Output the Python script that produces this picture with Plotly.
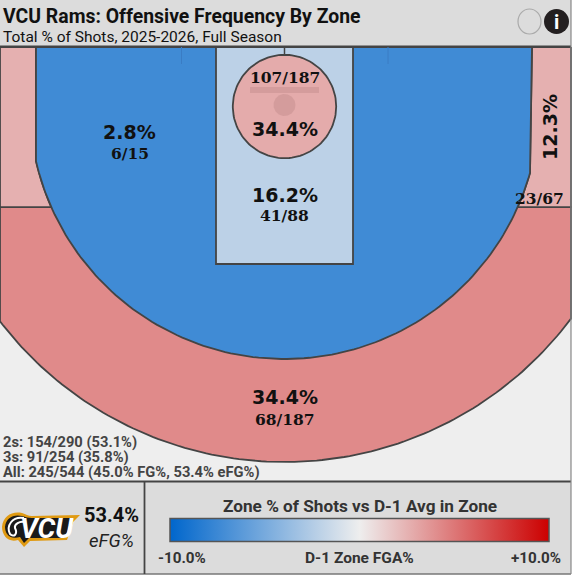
import numpy as np
import plotly.graph_objects as go
from plotly.colors import sample_colorscale

# Dados dos zonas
zonas = ["esquerda", "garrafao", "aro", "canto", "tres"]
pct_zona = [2.8, 16.2, 34.4, 12.3, 34.4]
made_zona = [6, 41, 107, 23, 68]
att_zona = [15, 88, 187, 67, 187]
dif_zona = [-7.3, -2.1, 2.8, 2.6, 4.2]  # diferenca contra a media D-1

titulo = "VCU Rams: Offensive Frequency By Zone"
subtitulo = "Total % of Shots, 2025-2026, Full Season"
linhas_resumo = ["2s: 154/290 (53.1%)", "3s: 91/254 (35.8%)", "All: 245/544 (45.0% FG%, 53.4% eFG%)"]
efg = "53.4%"
escala = [[0, "#0066cc"], [0.5, "#eeeeee"], [1, "#cc0000"]]
cmin, cmax = -10, 10


def cor(v):
    return sample_colorscale(escala, [(v - cmin) / (cmax - cmin)])[0]


LINHA = "#444444"
cx, cy = 284.5, 104
R3, RFORA = 255, 358
topo, fundo, direita = 47, 481, 571
canto_y = 207


def arco(r, a0, a1, x0=cx, y0=cy, n=120):
    t = np.linspace(a0, a1, n)
    return x0 + r * np.cos(t), y0 + r * np.sin(t)


def ang(x, y):
    return np.arctan2(y - cy, x - cx)


fig = go.Figure()


def poli(xs, ys, fill, lw=1.8):
    fig.add_trace(go.Scatter(x=list(xs), y=list(ys), mode="lines", fill="toself", fillcolor=fill,
                             line=dict(color=LINHA, width=lw), hoverinfo="skip", showlegend=False))


# Fundo da quadra, zona de tres acima
xa, ya = arco(RFORA, ang(direita, cy + np.sqrt(RFORA ** 2 - (direita - cx) ** 2)),
              ang(0, cy + np.sqrt(RFORA ** 2 - cx ** 2)))
poli([0] + list(xa[::-1]) + [direita, 0], [canto_y] + list(ya[::-1]) + [canto_y, canto_y], cor(dif_zona[4]))

# Cantos
y_esq = cy + np.sqrt(R3 ** 2 - (cx - 36) ** 2)
y_dir = cy + np.sqrt(R3 ** 2 - (530 - cx) ** 2)
xl, yl = arco(R3, ang(36, y_esq), ang(51.5, canto_y), n=20)
poli([0, 36] + list(xl) + [0, 0], [topo, topo] + list(yl) + [canto_y, topo], cor(dif_zona[3]))
xr, yr = arco(R3, ang(530, y_dir), ang(517.5, canto_y), n=20)
poli([direita, 532] + list(xr) + [direita, direita], [topo, topo] + list(yr) + [canto_y, topo], cor(dif_zona[3]))

# Zona de dois
xb, yb = arco(R3, ang(530, y_dir), ang(36, y_esq))
poli([532] + list(xb) + [36, 532], [topo] + list(yb) + [topo, topo], cor(dif_zona[0]))

# Garrafao
poli([216, 353, 353, 216, 216], [topo, topo, 264, 264, topo], cor(dif_zona[1]))

# Aro
xc, yc = arco(51.7, 0, 2 * np.pi, 284.5, 106.5)
poli(xc, yc, cor(dif_zona[2]))
xc, yc = arco(11, 0, 2 * np.pi, 284.5, 105)
fig.add_trace(go.Scatter(x=xc, y=yc, mode="lines", fill="toself", fillcolor="rgba(150,100,100,0.2)",
                         line=dict(width=0), hoverinfo="skip", showlegend=False))

# Traco invisivel so para a barra de cores
fig.add_trace(go.Scatter(x=[129, 285, 285, 550, 285], y=[132, 195, 128, 127, 397], mode="markers",
                         marker=dict(color=dif_zona, coloraxis="coloraxis", opacity=0, size=1),
                         hoverinfo="skip", showlegend=False))

formas = [
    dict(type="rect", x0=0, x1=direita, y0=0, y1=47, fillcolor="#dcdcdc", line_width=0, layer="below"),
    dict(type="rect", x0=0, x1=direita, y0=47, y1=481, fillcolor="#eeeeee", line_width=0, layer="below"),
    dict(type="rect", x0=0, x1=direita, y0=481, y1=574, fillcolor="#dcdcdc", line_width=0, layer="below"),
    dict(type="line", x0=0, x1=571, y0=46.5, y1=46.5, line=dict(color=LINHA, width=2.2)),
    dict(type="line", x0=0, x1=571, y0=481.5, y1=481.5, line=dict(color=LINHA, width=2)),
    dict(type="line", x0=0, x1=571, y0=574, y1=574, line=dict(color="#777777", width=1.5)),
    dict(type="line", x0=144.5, x1=144.5, y0=482, y1=574, line=dict(color=LINHA, width=1.8)),
    dict(type="line", x0=571, x1=571, y0=0, y1=574, line=dict(color="#888888", width=1.2)),
    # haste e tabela
    dict(type="line", x0=284.5, x1=284.5, y0=47, y1=55, line=dict(color=LINHA, width=1.5)),
    dict(type="rect", x0=250, x1=319, y0=87, y1=93, fillcolor="rgba(150,100,100,0.2)", line_width=0),
    dict(type="line", x0=181.5, x1=181.5, y0=47, y1=64, line=dict(color="#3a7cc4", width=1)),
    dict(type="line", x0=388, x1=388, y0=47, y1=64, line=dict(color="#3a7cc4", width=1)),
    # botoes
    dict(type="circle", x0=518, x1=541, y0=9, y1=34, fillcolor="#dcdcdc", line=dict(color="#aaaaaa", width=1.2)),
    dict(type="circle", x0=544, x1=569, y0=9, y1=34, fillcolor="#231f20", line_width=0),
    # logo: contorno dourado, miolo preto e chifre
    dict(type="path", path="M 2 527 C 3 516, 12 511, 22 513 C 26 514, 28 516, 32 516 L 80 515 L 73 522 L 67 540 "
                           "L 30 541 L 24 547 L 18 540 C 8 543, 2 535, 2 527 Z",
         fillcolor="#e09a12", line_width=0),
    dict(type="path", path="M 5 527 C 6 518, 13 514, 22 516 C 26 517, 28 518, 32 518 L 74 518 L 70 523 L 65 538 "
                           "L 29 538 L 24 543 L 20 537 C 10 540, 5 534, 5 527 Z",
         fillcolor="#1a1a1a", line_width=0),
    dict(type="path", path="M 24 518 C 12 516, 6 526, 10 534 C 14 538, 18 534, 15 528 C 14 524, 20 521, 24 522",
         line=dict(color="#ffffff", width=2)),
]

notas = []


def texto(x, y, t, size, cor_t="#111111", fam="Roboto", bold=False, anchor="center", **extra):
    fonte = dict(family=fam, size=size, color=cor_t, weight=700 if bold else 400)
    fonte.update(extra.pop("font_extra", {}))
    notas.append(dict(x=x, y=y, text=t, showarrow=False, xanchor=anchor, yanchor="middle", font=fonte, **extra))


SANS = "DejaVu Sans"
SERIF = "DejaVu Serif"
pos_pct = [(129.5, 132), (284.5, 195), (284.5, 129), (550, 127), (284.5, 397)]
pos_cnt = [(129.5, 153), (284.5, 215), (284.5, 77), (539, 198), (284.5, 419)]
for i in range(len(zonas)):
    texto(pos_pct[i][0], pos_pct[i][1], f"{pct_zona[i]}%", 19, fam=SANS, bold=True,
          textangle=-90 if zonas[i] == "canto" else 0)
    texto(pos_cnt[i][0], pos_cnt[i][1], f"{made_zona[i]}/{att_zona[i]}", 15.5, fam=SERIF, bold=True)

texto(1, 16, titulo, 19.4, "#111111", bold=True, anchor="left")
texto(1, 37, subtitulo, 15.5, "#111111", anchor="left")
texto(556.5, 21.5, "i", 20, "#ffffff", bold=True)

# um so texto: a entrelinha vem da fonte base (1.3em) e o tamanho real vem do span
resumo = "<br>".join(f'<span style="font-size:14.7px">{l}</span>' for l in linhas_resumo)
texto(1, 457, resumo, 11.5, "#444444", bold=True, anchor="left", align="left")

texto(111, 515, efg, 20, "#111111", bold=True)
texto(111.5, 541, "eFG%", 18.5, "#222222", font_extra=dict(style="italic"))
texto(47, 528, "VCU", 28, "#ffffff", bold=True, font_extra=dict(style="italic"))
texto(359.5, 506, "Zone % of Shots vs D-1 Avg in Zone", 17.2, "#333333", bold=True)
texto(182, 558, "-10.0%", 15.2, "#333333", bold=True)
texto(359, 558, "D-1 Zone FGA%", 15.5, "#333333", bold=True)
texto(536, 558, "+10.0%", 15.2, "#333333", bold=True)

fig.update_layout(
    width=576, height=577, margin=dict(l=0, r=0, t=0, b=0), paper_bgcolor="#ffffff", plot_bgcolor="#ffffff",
    xaxis=dict(range=[0, 576], visible=False, fixedrange=True),
    yaxis=dict(range=[577, 0], visible=False, fixedrange=True),
    shapes=formas, annotations=notas, showlegend=False,
    coloraxis=dict(cmin=cmin, cmax=cmax, colorscale=escala, colorbar=dict(
        orientation="h", x=359.5 / 576, xanchor="center", y=(577 - 542.5) / 577, yanchor="bottom",
        len=379, lenmode="pixels", thickness=23, thicknessmode="pixels", xpad=0, ypad=0,
        outlinecolor="#555555", outlinewidth=1.5, ticks="", showticklabels=False)),
)
fig.write_html("out.html", config=dict(displayModeBar=False),
               post_script="document.body.style.margin='0';")
